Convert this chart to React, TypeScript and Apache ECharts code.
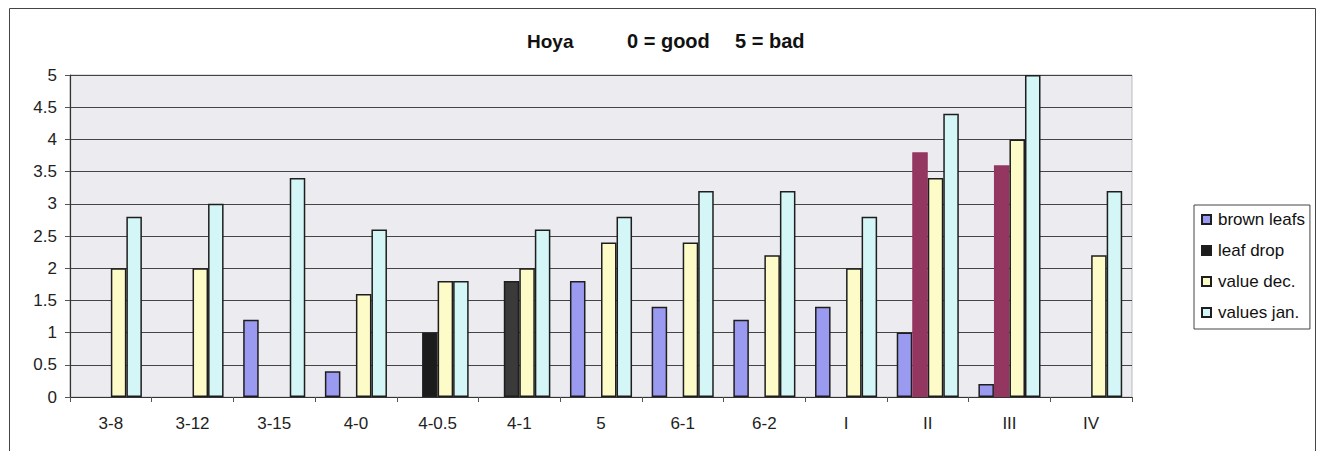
import React, { useEffect, useRef } from "react";
import * as echarts from "echarts";

const categories = ["3-8", "3-12", "3-15", "4-0", "4-0.5", "4-1", "5", "6-1", "6-2", "I", "II", "III", "IV"];
const brownLeafs = [null, null, 1.2, 0.4, null, null, 1.8, 1.4, 1.2, 1.4, 1.0, 0.2, null];
const leafDrop = [null, null, null, null, 1.0, 1.8, null, null, null, null, 3.8, 3.6, null];
const valueDec = [2.0, 2.0, null, 1.6, 1.8, 2.0, 2.4, 2.4, 2.2, 2.0, 3.4, 4.0, 2.2];
const valuesJan = [2.8, 3.0, 3.4, 2.6, 1.8, 2.6, 2.8, 3.2, 3.2, 2.8, 4.4, 5.0, 3.2];
const yTicks = [0, 0.5, 1, 1.5, 2, 2.5, 3, 3.5, 4, 4.5, 5];

const FONT = "'Liberation Sans', Arial, sans-serif";
const EDGE = "#1e1e1e";

export default function App() {
  const ref = useRef<HTMLDivElement>(null);
  useEffect(() => {
    const chart = echarts.init(ref.current!, null, { renderer: "svg" });
    const dropData = leafDrop.map((v, i) => {
      if (v === null) return null;
      const cat = categories[i];
      if (cat === "II" || cat === "III") {
        return { value: v, itemStyle: { color: "#933660", borderColor: "#933660" } };
      }
      if (cat === "4-1") {
        return { value: v, itemStyle: { color: "#3a3a3a" } };
      }
      return v;
    });
    const barBase = {
      type: "bar" as const,
      barGap: "0%",
      barCategoryGap: "24%",
      itemStyle: { borderColor: EDGE, borderWidth: 1.5 },
    };
    chart.setOption({
      animation: false,
      backgroundColor: "#ffffff",
      textStyle: { fontFamily: FONT },
      graphic: [
        { type: "rect", shape: { x: 9.5, y: 8.5, width: 1306, height: 460 }, style: { fill: "none", stroke: "#444", lineWidth: 1 }, silent: true },
        { type: "text", x: 527, y: 41, style: { text: "Hoya", font: "bold 19px " + FONT, fill: "#111", verticalAlign: "middle" } },
        { type: "text", x: 627, y: 41, style: { text: "0 = good", font: "bold 20px " + FONT, fill: "#111", verticalAlign: "middle" } },
        { type: "text", x: 735, y: 41, style: { text: "5 = bad", font: "bold 20px " + FONT, fill: "#111", verticalAlign: "middle" } },
      ],
      grid: {
        left: 70,
        right: 186,
        top: 75,
        bottom: 54,
        show: true,
        backgroundColor: "#ececf0",
        borderColor: "#bbbbbb",
        borderWidth: 1,
      },
      legend: {
        orient: "vertical",
        left: 1194,
        top: 205,
        itemWidth: 9,
        itemHeight: 9,
        itemGap: 14,
        icon: "rect",
        padding: [6, 5, 8, 7],
        borderColor: "#444",
        borderWidth: 1,
        backgroundColor: "#ffffff",
        textStyle: { fontSize: 17, color: "#111", fontFamily: FONT, padding: [0, 0, 0, 2] },
        data: ["brown leafs", "leaf drop", "value dec.", "values jan."],
      },
      xAxis: {
        type: "category",
        data: categories,
        axisLine: { lineStyle: { color: "#333", width: 1.2 } },
        axisTick: { show: true, alignWithLabel: false, length: 5, lineStyle: { color: "#555" } },
        axisLabel: { fontSize: 17, color: "#222", margin: 18, fontFamily: FONT },
      },
      yAxis: {
        type: "value",
        min: 0,
        max: 5,
        interval: 0.5,
        axisLine: { show: true, lineStyle: { color: "#333", width: 1.2 } },
        axisTick: { show: true, length: 5, lineStyle: { color: "#555" } },
        axisLabel: {
          fontSize: 17,
          color: "#222",
          margin: 13,
          fontFamily: FONT,
          formatter: (v: number) => (yTicks.includes(v) ? String(v) : ""),
        },
        splitLine: { lineStyle: { color: "#444", width: 1 } },
      },
      series: [
        { ...barBase, name: "brown leafs", data: brownLeafs, itemStyle: { ...barBase.itemStyle, color: "#9a9af0" } },
        { ...barBase, name: "leaf drop", data: dropData, itemStyle: { ...barBase.itemStyle, color: "#1c1c1c" } },
        { ...barBase, name: "value dec.", data: valueDec, itemStyle: { ...barBase.itemStyle, color: "#fdfbc8" } },
        { ...barBase, name: "values jan.", data: valuesJan, itemStyle: { ...barBase.itemStyle, color: "#d4f6f6" } },
      ],
    });
    return () => chart.dispose();
  }, []);
  return <div ref={ref} style={{ position: "absolute", left: 0, top: 0, width: 1318, height: 451 }} />;
}
